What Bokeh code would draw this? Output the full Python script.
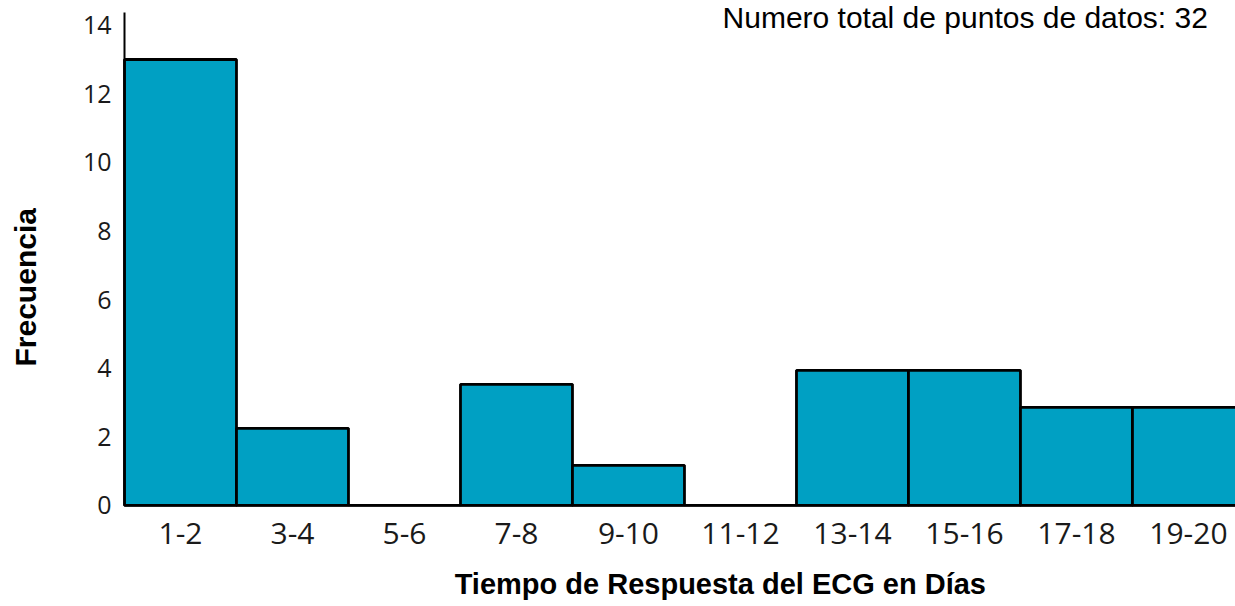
from bokeh.plotting import figure
from bokeh.models import Label, FixedTicker, Range1d, ColumnDataSource
from bokeh.embed import file_html
from bokeh.resources import INLINE
import math

# ---- data ----
bins = ["1-2", "3-4", "5-6", "7-8", "9-10", "11-12", "13-14", "15-16", "17-18", "19-20"]
freq = [13, 2.25, 0, 3.53, 1.17, 0, 3.94, 3.94, 2.86, 2.86]
y_ticks = [0, 2, 4, 6, 8, 10, 12, 14]
title_text = "Numero total de puntos de datos: 32"
x_title = "Tiempo de Respuesta del ECG en Días"
y_title = "Frecuencia"

idx = list(range(len(bins)))
src = ColumnDataSource(dict(
    left=[i for i in idx],
    right=[i + 1 for i in idx],
    top=freq,
    bottom=[0] * len(freq),
))

W, H = 1235, 606
p = figure(width=W, height=H, output_backend="svg", toolbar_location=None,
           x_range=Range1d(-1.107, 9.92), y_range=Range1d(-2.945, 14.72),
           min_border_left=0, min_border_right=0, min_border_top=0,
           min_border_bottom=0)

p.quad(left="left", right="right", top="top", bottom="bottom", source=src,
       fill_color="#00A0C3", line_color="black", line_width=2.8)

p.xgrid.visible = False
p.ygrid.visible = False
p.outline_line_color = None
p.background_fill_color = "white"
p.border_fill_color = "white"

# x axis drawn at y = 0
p.xaxis.fixed_location = 0
p.xaxis.bounds = (0, 9.92)
p.xaxis.ticker = FixedTicker(ticks=[i + 0.5 for i in idx])
p.xaxis.major_label_overrides = {i + 0.5: b for i, b in zip(idx, bins)}
p.xaxis.major_tick_line_color = None
p.xaxis.minor_tick_line_color = None
p.xaxis.axis_line_color = "black"
p.xaxis.axis_line_width = 2
p.xaxis.major_label_text_font = "Open Sans"
p.xaxis.major_label_text_font_size = "30px"
p.xaxis.major_label_text_color = "#1a1a1a"
p.xaxis.major_label_standoff = 12

# y axis drawn at x = 0
p.yaxis.fixed_location = 0
p.yaxis.bounds = (0, 14.37)
p.yaxis.ticker = FixedTicker(ticks=y_ticks)
p.yaxis.major_tick_line_color = None
p.yaxis.minor_tick_line_color = None
p.yaxis.axis_line_color = "black"
p.yaxis.axis_line_width = 2
p.yaxis.major_label_text_font = "Open Sans"
p.yaxis.major_label_text_font_size = "25px"
p.yaxis.major_label_text_color = "#1a1a1a"
p.yaxis.major_label_standoff = 7

# texts
p.add_layout(Label(x=5.34, y=14.70, text=title_text, text_font="Liberation Sans",
                   text_font_size="30px", text_color="black",
                   text_baseline="top", text_align="left"))
p.add_layout(Label(x=5.32, y=-2.30, text=x_title, text_font="Liberation Sans",
                   text_font_size="29px", text_font_style="bold", text_color="black",
                   text_baseline="middle", text_align="center"))
p.add_layout(Label(x=-0.884, y=6.36, text=y_title, text_font="Liberation Sans",
                   text_font_size="30px", text_font_style="bold", text_color="black",
                   text_baseline="middle", text_align="center", angle=math.pi / 2))

open("out.html", "w").write(file_html(p, INLINE))
